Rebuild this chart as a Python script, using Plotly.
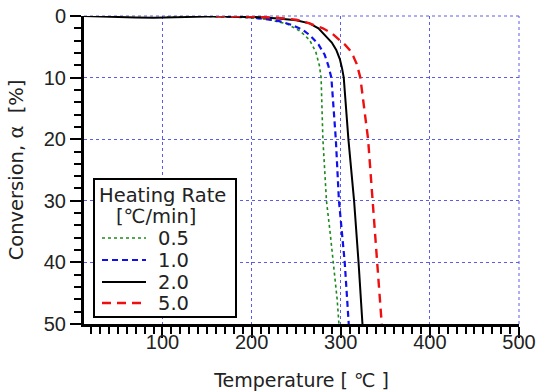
import plotly.graph_objects as go

# Heating rate 0.5 C/min
t_05 = [105, 150, 200, 220, 240, 255, 265, 272, 276, 278, 280, 284, 288, 292, 296, 298]
c_05 = [0, 0.05, 0.3, 0.6, 1.3, 2.5, 3.9, 5.8, 8, 10, 20, 30, 35, 40, 46, 50]
# Heating rate 1.0 C/min
t_10 = [160, 200, 230, 246, 258, 266, 275, 282, 286, 289.5, 294.5, 298, 304.5, 309]
c_10 = [0, 0.2, 0.8, 1.5, 2.3, 3.2, 4.6, 6.3, 8, 10, 20, 30, 40, 50]
# Heating rate 2.0 C/min
t_20 = [12, 30, 50, 70, 90, 110, 130, 150, 170, 190, 210, 230, 250, 265, 275, 284, 290, 295, 299, 301.5, 303.4, 308.6, 315, 320, 324.4]
c_20 = [0, 0.1, 0.2, 0.25, 0.3, 0.2, 0.15, 0.1, 0.1, 0.1, 0.2, 0.4, 0.7, 1.2, 2, 3.4, 4.3, 5.5, 7, 8.5, 10, 20, 30, 40, 50]
# Heating rate 5.0 C/min
t_50 = [160, 200, 230, 250, 265, 280, 290, 299, 305, 310, 314, 318, 322, 330.7, 336, 340.8, 346]
c_50 = [0, 0.1, 0.3, 0.6, 1.2, 2.0, 2.8, 3.9, 4.7, 5.5, 6.5, 7.8, 10, 20, 30, 40, 50]

labels = ["0.5", "1.0", "2.0", "5.0"]
legend_title = ["Heating Rate", "[℃/min]"]
x_ticks = [100, 200, 300, 400, 500]
y_ticks = [0, 10, 20, 30, 40, 50]

TEXT_FONT = "DejaVu Sans, Liberation Sans, sans-serif"
TICK_FONT = "Liberation Sans, Arial, sans-serif"
GRID = "#5c5ce6"

styles = [
    dict(color="#1e8a1e", width=1.6, dash="dot"),
    dict(color="#1010ee", width=2.2, dash="6px,4px"),
    dict(color="black", width=2),
    dict(color="#ee1010", width=2.4, dash="9px,6px"),
]

W, H = 537, 392
# plot area in page pixels (page body margin removed below)
SL, SR, ST, SB = 84, 519, 16, 324
L, R, T, B = SL, SR, ST, SB


def px_x(p):
    return (p - SL) / (SR - SL)


def px_y(p):
    return (SB - p) / (SB - ST)


fig = go.Figure()
for t, c, name, st in zip([t_05, t_10, t_20, t_50], [c_05, c_10, c_20, c_50], labels, styles):
    fig.add_trace(go.Scatter(x=t, y=c, mode="lines", name=name, line=st, showlegend=False))

shapes = [
    dict(type="line", xref="paper", yref="paper", x0=0, x1=1, y0=1, y1=1,
         line=dict(color=GRID, width=1, dash="dot"), layer="below"),
    dict(type="line", xref="paper", yref="paper", x0=1, x1=1, y0=0, y1=1,
         line=dict(color=GRID, width=1, dash="dot"), layer="below"),
    dict(type="rect", xref="paper", yref="paper", x0=px_x(94), x1=px_x(236), y0=px_y(317), y1=px_y(179),
         line=dict(color="black", width=2), fillcolor="white", layer="above"),
]
annotations = [
    dict(text=legend_title[0], xref="paper", yref="paper", x=px_x(97), y=px_y(195), xanchor="left",
         yanchor="middle", showarrow=False, font=dict(family=TEXT_FONT, size=19.5, color="#222")),
    dict(text=legend_title[1], xref="paper", yref="paper", x=px_x(114), y=px_y(216), xanchor="left",
         yanchor="middle", showarrow=False, font=dict(family=TEXT_FONT, size=19.5, color="#222")),
]
row_y = [238, 260, 282, 303]
for name, st, ry in zip(labels, styles, row_y):
    shapes.append(dict(type="line", xref="paper", yref="paper", x0=px_x(102), x1=px_x(146),
                       y0=px_y(ry), y1=px_y(ry), line=st, layer="above"))
    annotations.append(dict(text=name, xref="paper", yref="paper", x=px_x(156), y=px_y(ry),
                            xanchor="left", yanchor="middle", showarrow=False,
                            font=dict(family=TEXT_FONT, size=19.5, color="#222")))

fig.update_layout(
    width=W, height=H,
    margin=dict(l=L, r=W - R, t=T, b=H - B),
    paper_bgcolor="white", plot_bgcolor="white",
    font=dict(family=TEXT_FONT, size=19, color="#222"),
    showlegend=False,
    shapes=shapes, annotations=annotations,
)
fig.update_xaxes(
    range=[12, 500], tickvals=x_ticks, ticktext=[str(v) for v in x_ticks],
    tickfont=dict(family=TICK_FONT, size=20, color="#222"),
    showline=True, linecolor="black", linewidth=3,
    ticks="outside", ticklen=11, tickwidth=2, tickcolor="black",
    minor=dict(dtick=10, tick0=0, ticks="outside", ticklen=7, tickwidth=2, tickcolor="black", showgrid=False),
    showgrid=True, gridcolor=GRID, griddash="dot", gridwidth=1,
    zeroline=False, automargin=False, ticklabelstandoff=-13, ticklabeloverflow="allow",
    title=dict(text="Temperature [ ℃ ]", standoff=22, font=dict(family=TEXT_FONT, size=19)),
)
fig.update_yaxes(
    range=[50, 0], tickvals=y_ticks, ticktext=[str(v) for v in y_ticks],
    tickfont=dict(family=TICK_FONT, size=20, color="#222"),
    showline=True, linecolor="black", linewidth=3,
    ticks="outside", ticklen=11, tickwidth=2, tickcolor="black",
    minor=dict(dtick=2, tick0=0, ticks="outside", ticklen=7, tickwidth=2, tickcolor="black", showgrid=False),
    showgrid=True, gridcolor=GRID, griddash="dot", gridwidth=1,
    zeroline=False, automargin=False, ticklabeloverflow="allow",
    title=dict(text="Conversion, α\u00a0 [%]", standoff=15, font=dict(family=TEXT_FONT, size=19.5)),
)
fig.write_html("out.html", config={"displayModeBar": False},
               post_script="document.body.style.margin='0';")
